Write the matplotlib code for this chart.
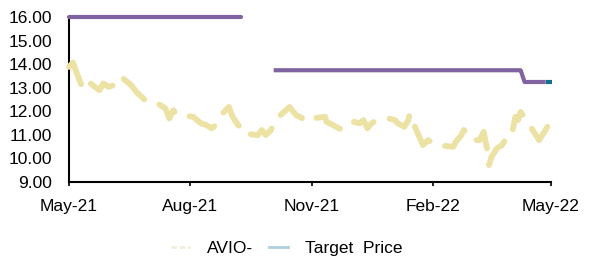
import matplotlib
matplotlib.use("Agg")
import matplotlib.pyplot as plt
import matplotlib.dates as mdates
from matplotlib.lines import Line2D
import pandas as pd

plt.rcParams['font.family'] = ['Liberation Sans', 'DejaVu Sans']
plt.rcParams['lines.scale_dashes'] = False

# ---- data ----
price_dates = [
    "2021-05-01", "2021-05-04", "2021-05-07", "2021-05-11", "2021-05-14",
    "2021-05-24", "2021-05-27", "2021-05-31", "2021-06-04", "2021-06-07",
    "2021-06-10", "2021-06-11", "2021-06-17", "2021-06-21", "2021-06-25",
    "2021-06-29", "2021-07-05", "2021-07-09", "2021-07-13", "2021-07-16",
    "2021-07-19", "2021-07-22", "2021-07-26", "2021-08-03", "2021-08-09",
    "2021-08-13", "2021-08-17", "2021-08-20", "2021-08-23", "2021-08-30",
    "2021-09-02", "2021-09-06", "2021-09-08", "2021-09-10", "2021-09-21",
    "2021-09-24", "2021-09-27", "2021-10-01", "2021-10-04", "2021-10-15",
    "2021-10-20", "2021-10-25", "2021-10-28", "2021-11-01", "2021-11-11",
    "2021-11-12", "2021-11-17", "2021-11-19", "2021-11-24", "2021-12-03",
    "2021-12-07", "2021-12-10", "2021-12-13", "2021-12-16", "2021-12-20",
    "2021-12-29", "2022-01-03", "2022-01-05", "2022-01-10", "2022-01-13",
    "2022-01-14", "2022-01-19", "2022-01-24", "2022-01-28", "2022-02-02",
    "2022-02-16", "2022-02-18", "2022-02-22", "2022-02-24", "2022-02-28",
    "2022-03-02", "2022-03-08", "2022-03-11", "2022-03-14", "2022-03-15",
    "2022-03-17", "2022-03-21", "2022-03-25", "2022-03-28", "2022-04-01",
    "2022-04-04", "2022-04-06", "2022-04-08", "2022-04-18", "2022-04-22",
    "2022-04-26", "2022-04-29", "2022-05-02",
]
price_values = [
    13.89, 14.08, 13.61, 13.04, 13.33,
    12.90, 13.19, 13.04, 13.12, 13.04,
    13.33, 13.40, 13.12, 12.83, 12.62,
    12.41, 12.41, 12.27, 12.13, 11.70,
    12.05, 11.84, 11.84, 11.77, 11.49,
    11.42, 11.28, 11.42, 11.77, 12.19,
    11.77, 11.42, 11.35, 11.07, 10.99,
    11.21, 10.99, 11.21, 11.63, 12.19,
    11.84, 11.70, 11.56, 11.70, 11.77,
    11.56, 11.42, 11.35, 11.21, 11.56,
    11.49, 11.63, 11.28, 11.49, 11.63,
    11.70, 11.63, 11.49, 11.35, 11.63,
    11.91, 11.21, 10.57, 10.78, 10.57,
    10.50, 10.71, 10.99, 11.21, 10.92,
    10.78, 10.78, 11.13, 10.29, 9.72,
    10.07, 10.43, 10.57, 10.85, 10.92,
    11.77, 11.63, 11.98, 11.13, 10.78,
    11.13, 11.42, 11.63,
]

tp1_dates = ["2021-05-01", "2021-09-08"]
tp1_values = [16.00, 16.00]
tp2_dates = ["2021-10-03", "2022-04-08", "2022-04-11", "2022-04-27"]
tp2_values = [13.75, 13.75, 13.25, 13.25]
tp3_dates = ["2022-04-27", "2022-05-02"]
tp3_values = [13.25, 13.25]

x_ticks = ["2021-05-01", "2021-08-01", "2021-11-01", "2022-02-01", "2022-05-01"]
y_ticks = [9, 10, 11, 12, 13, 14, 15, 16]

series_labels = ["AVIO-", "Target  Price"]

# ---- figure ----
fig = plt.figure(figsize=(6.14, 2.56), dpi=100)
ax = fig.add_axes([69/614, 1-182/256, 482/614, (182-17.3)/256])

price_col = "#ECE2A4"
purple = "#8064A2"
teal = "#156F8F"

ax.plot(pd.to_datetime(price_dates), price_values, color=price_col, lw=4.2,
        linestyle=(0, (21, 12)), dash_capstyle='round', solid_capstyle='round',
        dash_joinstyle='round', clip_on=False, zorder=2)
ax.plot(pd.to_datetime(tp1_dates), tp1_values, color=purple, lw=3.0,
        solid_capstyle='round', clip_on=False, zorder=3)
ax.plot(pd.to_datetime(tp2_dates), tp2_values, color=purple, lw=3.0,
        solid_capstyle='butt', solid_joinstyle='round', clip_on=False, zorder=3)
ax.plot(pd.to_datetime(tp3_dates), tp3_values, color=teal, lw=3.0,
        solid_capstyle='butt', clip_on=False, zorder=4)

ax.set_xlim(pd.Timestamp(x_ticks[0]), pd.Timestamp(x_ticks[-1]))
ax.set_ylim(9, 16)
ax.set_xticks(pd.to_datetime(x_ticks))
ax.xaxis.set_major_formatter(mdates.DateFormatter("%b-%y"))
ax.set_yticks(y_ticks)
ax.set_yticklabels([f"{v:.2f}" for v in y_ticks])

for s in ["top", "right"]:
    ax.spines[s].set_visible(False)
for s in ["left", "bottom"]:
    ax.spines[s].set_linewidth(1.5)
    ax.spines[s].set_color("black")
    ax.spines[s].set_zorder(1)

ax.tick_params(axis="x", direction="out", length=3, width=1.2, pad=9,
               labelsize=12.5, colors="black")
ax.tick_params(axis="y", length=0, pad=12, labelsize=12.5, colors="black")

handles = [
    Line2D([], [], color="#F2EEDB", lw=2, linestyle=(0, (4, 2))),
    Line2D([], [], color="#ADCFDC", lw=2),
]
fig.legend(handles, series_labels, loc="center", bbox_to_anchor=(0.467, 0.028),
           ncol=2, frameon=False, fontsize=12.5, handlelength=1.1,
           handletextpad=1.0, columnspacing=0.9)

fig.savefig("out.png", dpi=100)
